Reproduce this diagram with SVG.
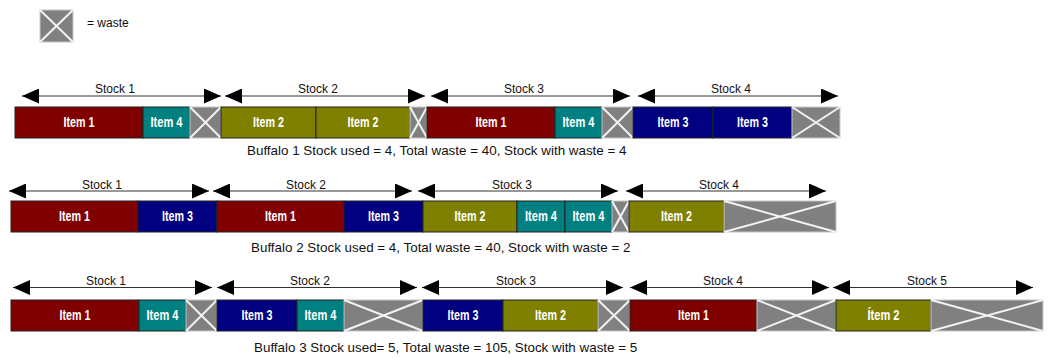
<svg xmlns="http://www.w3.org/2000/svg" width="1050" height="358" viewBox="0 0 1050 358">
<style>
.bg{fill:#ffffff}
.seg{stroke:#222;stroke-width:1}
.i1{fill:#800000}.i2{fill:#808000}.i3{fill:#000080}.i4{fill:#008080}
.w{fill:#808080;stroke:#c8c8c8;stroke-width:1}
.x{stroke:#f2f2f2;stroke-width:2}
.lbl{font-family:"Liberation Sans",Arial,sans-serif;font-weight:bold;font-size:15px;fill:#fff;text-anchor:middle}
.stk{font-family:"Liberation Sans",Arial,sans-serif;font-size:12px;fill:#111;text-anchor:middle}
.cap{font-family:"Liberation Sans",Arial,sans-serif;font-size:13.4px;fill:#111}
.arr{stroke:#333;stroke-width:1;fill:none;marker-start:url(#ah);marker-end:url(#ah)}
</style>
<defs>
<marker id="ah" viewBox="0 0 17 15" markerWidth="17" markerHeight="15" refX="17" refY="7.5" orient="auto-start-reverse" markerUnits="userSpaceOnUse">
<path d="M0,0 L17,7.5 L0,15 z" fill="#000"/>
</marker>
</defs>
<rect class="bg" x="0" y="0" width="1050" height="358"/>

<g id="legend">
<rect class="w" x="40" y="10" width="33" height="32"/>
<path class="x" d="M40,10 L73,42 M73,10 L40,42"/>
<text x="87" y="27" font-family="Liberation Sans, Arial, sans-serif" font-size="12" fill="#111">= waste</text>
</g>

<!-- Row 1 -->
<g id="r1-s1"><rect class="seg i1" x="15" y="107" width="128" height="31"/><text class="lbl" x="79" y="127" textLength="31" lengthAdjust="spacingAndGlyphs">Item 1</text></g>
<g id="r1-s2"><rect class="seg i4" x="143" y="107" width="47" height="31"/><text class="lbl" x="166.5" y="127" textLength="32" lengthAdjust="spacingAndGlyphs">Item 4</text></g>
<g id="r1-w1"><rect class="w" x="190" y="107" width="31" height="31"/><path class="x" d="M190,107 L221,138 M221,107 L190,138"/></g>
<g id="r1-s3"><rect class="seg i2" x="221" y="107" width="95" height="31"/><text class="lbl" x="268.5" y="127" textLength="31" lengthAdjust="spacingAndGlyphs">Item 2</text></g>
<g id="r1-s4"><rect class="seg i2" x="316" y="107" width="94" height="31"/><text class="lbl" x="363" y="127" textLength="31" lengthAdjust="spacingAndGlyphs">Item 2</text></g>
<g id="r1-w2"><rect class="w" x="410" y="107" width="17" height="31"/><path class="x" d="M410,107 L427,138 M427,107 L410,138"/></g>
<g id="r1-s5"><rect class="seg i1" x="427" y="107" width="128" height="31"/><text class="lbl" x="491" y="127" textLength="31" lengthAdjust="spacingAndGlyphs">Item 1</text></g>
<g id="r1-s6"><rect class="seg i4" x="555" y="107" width="47" height="31"/><text class="lbl" x="578.5" y="127" textLength="32" lengthAdjust="spacingAndGlyphs">Item 4</text></g>
<g id="r1-w3"><rect class="w" x="602" y="107" width="31" height="31"/><path class="x" d="M602,107 L633,138 M633,107 L602,138"/></g>
<g id="r1-s7"><rect class="seg i3" x="633" y="107" width="80" height="31"/><text class="lbl" x="673" y="127" textLength="31" lengthAdjust="spacingAndGlyphs">Item 3</text></g>
<g id="r1-s8"><rect class="seg i3" x="713" y="107" width="79" height="31"/><text class="lbl" x="752.5" y="127" textLength="31" lengthAdjust="spacingAndGlyphs">Item 3</text></g>
<g id="r1-w4"><rect class="w" x="792" y="107" width="48" height="31"/><path class="x" d="M792,107 L840,138 M840,107 L792,138"/></g>
<text class="cap" x="247" y="155">Buffalo 1 Stock used = 4, Total waste = 40, Stock with waste = 4</text>

<!-- Row 2 -->
<g id="r2-s1"><rect class="seg i1" x="11" y="201" width="127" height="31"/><text class="lbl" x="74.5" y="220.5" textLength="31" lengthAdjust="spacingAndGlyphs">Item 1</text></g>
<g id="r2-s2"><rect class="seg i3" x="138" y="201" width="79" height="31"/><text class="lbl" x="177.5" y="220.5" textLength="31" lengthAdjust="spacingAndGlyphs">Item 3</text></g>
<g id="r2-s3"><rect class="seg i1" x="217" y="201" width="127" height="31"/><text class="lbl" x="280.5" y="220.5" textLength="31" lengthAdjust="spacingAndGlyphs">Item 1</text></g>
<g id="r2-s4"><rect class="seg i3" x="344" y="201" width="79" height="31"/><text class="lbl" x="383.5" y="220.5" textLength="31" lengthAdjust="spacingAndGlyphs">Item 3</text></g>
<g id="r2-s5"><rect class="seg i2" x="423" y="201" width="94" height="31"/><text class="lbl" x="470" y="220.5" textLength="31" lengthAdjust="spacingAndGlyphs">Item 2</text></g>
<g id="r2-s6"><rect class="seg i4" x="517" y="201" width="48" height="31"/><text class="lbl" x="541" y="220.5" textLength="32" lengthAdjust="spacingAndGlyphs">Item 4</text></g>
<g id="r2-s7"><rect class="seg i4" x="565" y="201" width="47" height="31"/><text class="lbl" x="588.5" y="220.5" textLength="32" lengthAdjust="spacingAndGlyphs">Item 4</text></g>
<g id="r2-w1"><rect class="w" x="612" y="201" width="17" height="31"/><path class="x" d="M612,201 L629,232 M629,201 L612,232"/></g>
<g id="r2-s8"><rect class="seg i2" x="629" y="201" width="95" height="31"/><text class="lbl" x="676.5" y="220.5" textLength="31" lengthAdjust="spacingAndGlyphs">Item 2</text></g>
<g id="r2-w2"><rect class="w" x="724" y="201" width="112" height="31"/><path class="x" d="M724,201 L836,232 M836,201 L724,232"/></g>
<text class="cap" x="251" y="252">Buffalo 2 Stock used = 4, Total waste = 40, Stock with waste = 2</text>

<!-- Row 3 -->
<g id="r3-s1"><rect class="seg i1" x="11" y="300" width="128" height="31"/><text class="lbl" x="75" y="319.5" textLength="31" lengthAdjust="spacingAndGlyphs">Item 1</text></g>
<g id="r3-s2"><rect class="seg i4" x="139" y="300" width="47" height="31"/><text class="lbl" x="162.5" y="319.5" textLength="32" lengthAdjust="spacingAndGlyphs">Item 4</text></g>
<g id="r3-w1"><rect class="w" x="186" y="300" width="31" height="31"/><path class="x" d="M186,300 L217,331 M217,300 L186,331"/></g>
<g id="r3-s3"><rect class="seg i3" x="217" y="300" width="80" height="31"/><text class="lbl" x="257" y="319.5" textLength="31" lengthAdjust="spacingAndGlyphs">Item 3</text></g>
<g id="r3-s4"><rect class="seg i4" x="297" y="300" width="47" height="31"/><text class="lbl" x="320.5" y="319.5" textLength="32" lengthAdjust="spacingAndGlyphs">Item 4</text></g>
<g id="r3-w2"><rect class="w" x="344" y="300" width="79" height="31"/><path class="x" d="M344,300 L423,331 M423,300 L344,331"/></g>
<g id="r3-s5"><rect class="seg i3" x="423" y="300" width="80" height="31"/><text class="lbl" x="463" y="319.5" textLength="31" lengthAdjust="spacingAndGlyphs">Item 3</text></g>
<g id="r3-s6"><rect class="seg i2" x="503" y="300" width="95" height="31"/><text class="lbl" x="550.5" y="319.5" textLength="31" lengthAdjust="spacingAndGlyphs">Item 2</text></g>
<g id="r3-w3"><rect class="w" x="598" y="300" width="32" height="31"/><path class="x" d="M598,300 L630,331 M630,300 L598,331"/></g>
<g id="r3-s7"><rect class="seg i1" x="630" y="300" width="127" height="31"/><text class="lbl" x="693.5" y="319.5" textLength="31" lengthAdjust="spacingAndGlyphs">Item 1</text></g>
<g id="r3-w4"><rect class="w" x="757" y="300" width="79" height="31"/><path class="x" d="M757,300 L836,331 M836,300 L757,331"/></g>
<g id="r3-s8"><rect class="seg i2" x="836" y="300" width="95" height="31"/><text class="lbl" x="883.5" y="319.5" textLength="32" lengthAdjust="spacingAndGlyphs">Ítem 2</text></g>
<g id="r3-w5"><rect class="w" x="931" y="300" width="112" height="31"/><path class="x" d="M931,300 L1043,331 M1043,300 L931,331"/></g>
<text class="cap" x="254" y="352">Buffalo 3 Stock used= 5, Total waste = 105, Stock with waste = 5</text>

<g id="connectors">
<line class="arr" x1="22" y1="96" x2="221" y2="96"/>
<line class="arr" x1="225" y1="96" x2="425" y2="96"/>
<line class="arr" x1="431" y1="96" x2="630" y2="96"/>
<line class="arr" x1="638" y1="96" x2="838" y2="96"/>
<line class="arr" x1="9" y1="191" x2="209" y2="191"/>
<line class="arr" x1="213" y1="191" x2="412" y2="191"/>
<line class="arr" x1="418" y1="191" x2="618" y2="191"/>
<line class="arr" x1="626" y1="191" x2="826" y2="191"/>
<line class="arr" x1="13" y1="287.5" x2="212" y2="287.5"/>
<line class="arr" x1="217" y1="287.5" x2="417" y2="287.5"/>
<line class="arr" x1="422" y1="287.5" x2="623" y2="287.5"/>
<line class="arr" x1="630" y1="287.5" x2="829" y2="287.5"/>
<line class="arr" x1="833" y1="287.5" x2="1033" y2="287.5"/>
</g>

<g id="stock-labels">
<text class="stk" x="115" y="93">Stock 1</text>
<text class="stk" x="318" y="93">Stock 2</text>
<text class="stk" x="524" y="93">Stock 3</text>
<text class="stk" x="731" y="93">Stock 4</text>
<text class="stk" x="102" y="189">Stock 1</text>
<text class="stk" x="306" y="189">Stock 2</text>
<text class="stk" x="512" y="189">Stock 3</text>
<text class="stk" x="719" y="189">Stock 4</text>
<text class="stk" x="106" y="285">Stock 1</text>
<text class="stk" x="310" y="285">Stock 2</text>
<text class="stk" x="516" y="285">Stock 3</text>
<text class="stk" x="723" y="285">Stock 4</text>
<text class="stk" x="927" y="285">Stock 5</text>
</g>
</svg>
